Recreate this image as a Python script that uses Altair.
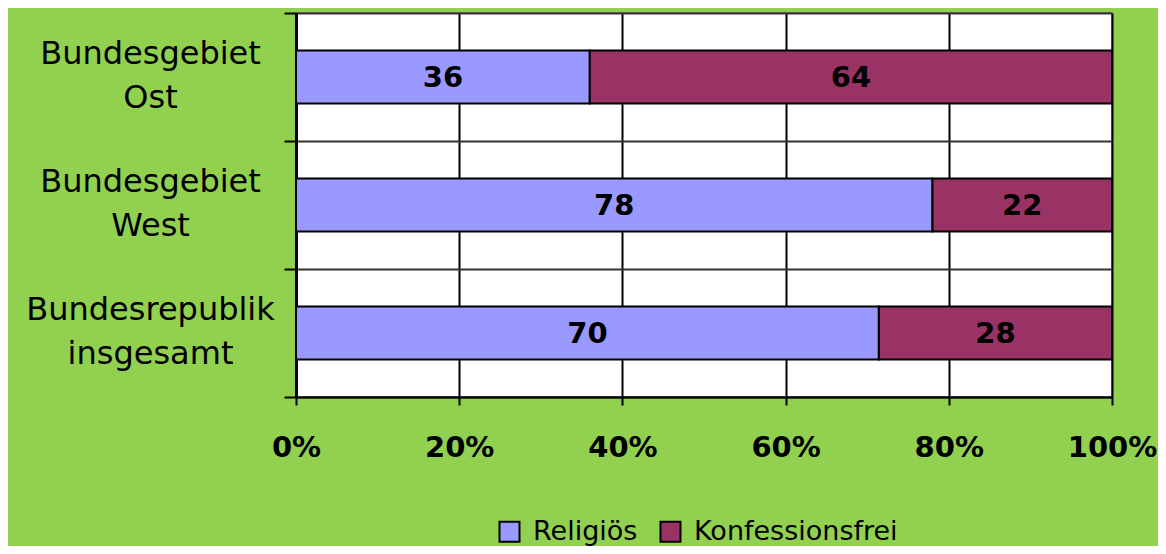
import altair as alt
import pandas as pd

categories = ["Bundesgebiet\nOst", "Bundesgebiet\nWest", "Bundesrepublik\ninsgesamt"]
religioes = [36, 78, 70]
konfessionsfrei = [64, 22, 28]
series = ["Religiös", "Konfessionsfrei"]
colors = ["#9999FF", "#993366"]
x_ticks = [0, 0.2, 0.4, 0.6, 0.8, 1.0]

rows = []
for c, r, k in zip(categories, religioes, konfessionsfrei):
    rows.append({"cat": c, "group": series[0], "order": 0, "value": r})
    rows.append({"cat": c, "group": series[1], "order": 1, "value": k})
df = pd.DataFrame(rows)

FONT = "DejaVu Sans"

base = alt.Chart(df).transform_joinaggregate(
    total="sum(value)", groupby=["cat"]
).transform_window(
    cum="sum(value)", groupby=["cat"], sort=[alt.SortField("order")], frame=[None, 0]
).transform_calculate(
    start="(datum.cum - datum.value) / datum.total",
    end="datum.cum / datum.total",
    mid="(datum.cum - datum.value / 2) / datum.total",
)

y_enc = alt.Y(
    "cat:N",
    sort=categories,
    title=None,
    scale=alt.Scale(paddingInner=0, paddingOuter=0),
    axis=alt.Axis(
        tickBand="extent",
        labelExpr="split(datum.label, '\\n')",
        labelAlign="center",
        labelBaseline="middle",
        labelLineHeight=44,
        labelOffset=-24,
        labelPadding=134,
        labelLimit=400,
        labelFont=FONT,
        labelFontSize=32,
        labelColor="black",
        tickSize=12,
        tickColor="black",
        tickWidth=2,
        domainColor="black",
        domainWidth=3,
        grid=True,
        gridColor="#333333",
        gridWidth=2,
    ),
)

bars = base.mark_bar(height={"band": 0.414}, stroke="black", strokeWidth=2).encode(
    x=alt.X(
        "start:Q",
        title=None,
        scale=alt.Scale(domain=[0, 1], nice=False, zero=True),
        axis=alt.Axis(
            values=x_ticks,
            format=".0%",
            labelFont=FONT,
            labelFontSize=29,
            labelFontWeight="bold",
            labelColor="black",
            labelPadding=28,
            labelFlush=False,
            labelOverlap=False,
            tickSize=8,
            tickColor="black",
            tickWidth=2,
            domainColor="black",
            domainWidth=2,
            grid=True,
            gridColor="black",
            gridWidth=2,
        ),
    ),
    x2="end:Q",
    y=y_enc,
    color=alt.Color(
        "group:N",
        scale=alt.Scale(domain=series, range=colors),
        legend=alt.Legend(
            title=None,
            orient="none",
            direction="horizontal",
            legendX=200,
            legendY=505,
            padding=0,
            symbolType="square",
            symbolSize=400,
            symbolStrokeColor="black",
            symbolStrokeWidth=2,
            symbolOpacity=1,
            labelFont=FONT,
            labelFontSize=27,
            labelColor="black",
            labelLimit=500,
            labelOffset=10,
            columnPadding=18,
        ),
    ),
    order=alt.Order("order:Q"),
)

labels = base.mark_text(
    font=FONT, fontSize=29, fontWeight="bold", color="black", baseline="middle", align="center", dy=1
).encode(
    x=alt.X("mid:Q"),
    y=alt.Y("cat:N", sort=categories),
    text=alt.Text("value:Q"),
)

chart = alt.layer(bars, labels).properties(
    width=816,
    height=384,
    padding={"left": 288, "top": 5, "right": 46, "bottom": 149},
    autosize="none",
    background="#92D050",
).configure_view(
    fill="white",
    stroke="#808080",
    strokeWidth=2,
)

chart.save("out.html", embed_options={"renderer": "svg", "actions": False})
